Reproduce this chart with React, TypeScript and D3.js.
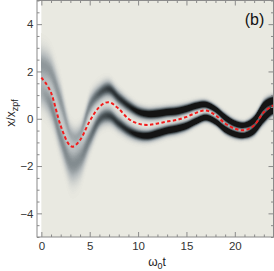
import React, { useEffect, useRef } from 'react';
import * as d3 from 'd3';

// sample times (omega_0 t) for all the traced curves
const tValues = [0, 1, 2, 3, 4, 5, 6, 7, 8, 9, 10, 11, 12, 13, 14, 15, 16, 17, 18, 19, 20, 21, 22, 23, 24];
// red dashed mean trajectory
const meanValues = [1.74, 1.1, -0.3, -1.15, -0.9, -0.1, 0.5, 0.7, 0.42, 0.0, -0.2, -0.26, -0.2, -0.12, -0.05, 0.08, 0.25, 0.35, 0.15, -0.2, -0.42, -0.48, -0.28, 0.28, 0.56];
// centres of the two dark branches of the distribution
const upperRidge = [2.3, 1.95, 0.75, -0.6, -0.6, 0.55, 1.07, 1.25, 0.88, 0.55, 0.3, 0.2, 0.22, 0.28, 0.32, 0.42, 0.55, 0.6, 0.4, 0.05, -0.2, -0.27, -0.05, 0.55, 0.78];
const lowerRidge = [1.1, 0.55, -0.8, -1.85, -1.7, -0.85, -0.05, 0.12, -0.2, -0.5, -0.68, -0.72, -0.62, -0.5, -0.42, -0.3, -0.1, 0.05, -0.12, -0.45, -0.65, -0.7, -0.5, 0.02, 0.36];
// spread and darkness of each branch
const upperWidth = [0.45, 0.45, 0.45, 0.28, 0.25, 0.28, 0.24, 0.22, 0.2, 0.18, 0.16, 0.15, 0.15, 0.14, 0.14, 0.13, 0.12, 0.11, 0.11, 0.12, 0.11, 0.1, 0.13, 0.15, 0.13];
const lowerWidth = [0.4, 0.4, 0.42, 0.5, 0.48, 0.32, 0.24, 0.22, 0.2, 0.18, 0.16, 0.15, 0.15, 0.14, 0.14, 0.13, 0.12, 0.11, 0.11, 0.12, 0.11, 0.1, 0.13, 0.15, 0.13];
const upperWeight = [0.45, 0.45, 0.45, 0.35, 0.35, 0.55, 0.72, 0.85, 0.88, 0.95, 1.1, 1.25, 1.35, 1.4, 1.4, 1.45, 1.5, 1.5, 1.5, 1.5, 1.5, 1.5, 1.5, 1.5, 1.5];
const lowerWeight = [0.35, 0.5, 0.5, 0.5, 0.5, 0.58, 0.72, 0.82, 0.88, 0.95, 1.1, 1.25, 1.35, 1.4, 1.4, 1.45, 1.5, 1.5, 1.5, 1.5, 1.5, 1.5, 1.5, 1.5, 1.5];

const xTicks = [0, 5, 10, 15, 20];
const yTicks = [-4, -2, 0, 2, 4];

const FONT = '"Liberation Sans", Arial, sans-serif';

// uniform catmull-rom through the integer-spaced samples
function catmull(vals: number[], t: number) {
  const n = vals.length;
  const i = Math.max(0, Math.min(n - 2, Math.floor(t)));
  const u = t - i;
  const p0 = vals[Math.max(i - 1, 0)], p1 = vals[i], p2 = vals[i + 1], p3 = vals[Math.min(i + 2, n - 1)];
  return 0.5 * (2 * p1 + (-p0 + p2) * u + (2 * p0 - 5 * p1 + 4 * p2 - p3) * u * u + (-p0 + 3 * p1 - 3 * p2 + p3) * u * u * u);
}

export default function App() {
  const ref = useRef<SVGSVGElement>(null);

  useEffect(() => {
    const svg = d3.select(ref.current);
    svg.selectAll('*').remove();

    const left = 37, right = 273.5, top = 0.5, bottom = 237;
    const x = d3.scaleLinear().domain([-0.45, 24]).range([left, right]);
    const y = d3.scaleLinear().domain([-5, 5]).range([bottom, top]);

    const color = d3.scaleLinear<string>()
      .domain([0, 0.3, 0.6, 0.85, 1])
      .range(['#e9e9e1', '#b3b9bb', '#6b757a', '#30373a', '#141414'])
      .interpolate(d3.interpolateRgb)
      .clamp(true);

    const lin = (vals: number[]) => d3.scaleLinear().domain(tValues).range(vals).clamp(true);
    const uw = lin(upperWidth), lw = lin(lowerWidth), ua = lin(upperWeight), la = lin(lowerWeight);

    svg.append('defs').append('clipPath').attr('id', 'plotclip')
      .append('rect').attr('x', left).attr('y', top).attr('width', right - left).attr('height', bottom - top);

    const plot = svg.append('g').attr('clip-path', 'url(#plotclip)');

    plot.append('rect')
      .attr('x', x(0)).attr('y', top)
      .attr('width', right - x(0)).attr('height', bottom - top)
      .attr('fill', color(0));

    // density cells, merged into vertical runs of the same shade
    const cells: { x: number; y: number; h: number; c: number }[] = [];
    const levels = 80;
    for (let px = Math.floor(x(0)); px < right; px++) {
      const t = Math.max(0, x.invert(px + 0.5));
      const u = catmull(upperRidge, t), l = catmull(lowerRidge, t);
      const su = uw(t), sl = lw(t), au = ua(t), al = la(t);
      let run: { x: number; y: number; h: number; c: number } | null = null;
      for (let py = Math.floor(top); py < bottom; py++) {
        const v = y.invert(py + 0.5);
        const I = au * Math.exp(-((v - u) ** 2) / (2 * su * su)) + al * Math.exp(-((v - l) ** 2) / (2 * sl * sl));
        const q = Math.round(Math.min(1, I) * levels);
        if (q < 1) { run = null; continue; }
        if (run && run.c === q) { run.h += 1; }
        else { run = { x: px, y: py, h: 1, c: q }; cells.push(run); }
      }
    }

    plot.append('g')
      .attr('shape-rendering', 'crispEdges')
      .selectAll('rect')
      .data(cells)
      .join('rect')
      .attr('x', d => d.x)
      .attr('y', d => d.y)
      .attr('width', 1)
      .attr('height', d => d.h)
      .attr('fill', d => color(d.c / levels));

    // mean trajectory
    const line = d3.line<number>()
      .x((d, i) => x(tValues[i]))
      .y(d => y(d))
      .curve(d3.curveCatmullRom.alpha(0));

    plot.append('path')
      .datum(meanValues)
      .attr('fill', 'none')
      .attr('stroke', '#f21d1d')
      .attr('stroke-width', 2)
      .attr('stroke-dasharray', '3.4 2.4')
      .attr('d', line);

    // frame + ticks
    const xMinor = d3.range(0, 25).filter(v => v % 5 !== 0);
    const yMinor = d3.range(-10, 11).map(v => v / 2).filter(v => v % 2 !== 0);
    const axisColor = '#8a8a8a';

    const styleAxis = (g: any) => {
      g.select('.domain').remove();
      g.selectAll('line').attr('stroke', axisColor);
      g.selectAll('text').attr('fill', '#333').style('font-family', FONT).style('font-size', '11.5px');
    };

    svg.append('g').attr('transform', `translate(0,${bottom})`)
      .call(d3.axisBottom(x).tickValues(xTicks).tickSize(-5).tickPadding(4.5)).call(styleAxis);
    svg.append('g').attr('transform', `translate(0,${bottom})`)
      .call(d3.axisBottom(x).tickValues(xMinor).tickSize(-2.5).tickFormat(() => '')).call(styleAxis);
    svg.append('g').attr('transform', `translate(0,${top})`)
      .call(d3.axisTop(x).tickValues(xTicks).tickSize(-5).tickFormat(() => '')).call(styleAxis);
    svg.append('g').attr('transform', `translate(0,${top})`)
      .call(d3.axisTop(x).tickValues(xMinor).tickSize(-2.5).tickFormat(() => '')).call(styleAxis);

    svg.append('g').attr('transform', `translate(${left},0)`)
      .call(d3.axisLeft(y).tickValues(yTicks).tickSize(-5).tickPadding(3.5)).call(styleAxis);
    svg.append('g').attr('transform', `translate(${left},0)`)
      .call(d3.axisLeft(y).tickValues(yMinor).tickSize(-2.5).tickFormat(() => '')).call(styleAxis);
    svg.append('g').attr('transform', `translate(${right},0)`)
      .call(d3.axisRight(y).tickValues(yTicks).tickSize(-5).tickFormat(() => '')).call(styleAxis);
    svg.append('g').attr('transform', `translate(${right},0)`)
      .call(d3.axisRight(y).tickValues(yMinor).tickSize(-2.5).tickFormat(() => '')).call(styleAxis);

    svg.append('rect')
      .attr('x', left).attr('y', top)
      .attr('width', right - left).attr('height', bottom - top)
      .attr('fill', 'none').attr('stroke', axisColor).attr('stroke-width', 1);

    // axis titles
    const yl = svg.append('text')
      .attr('transform', 'translate(15,113) rotate(-90)')
      .attr('text-anchor', 'middle')
      .style('font-family', FONT).style('font-size', '12px').attr('fill', '#222');
    yl.append('tspan').text('x/x');
    yl.append('tspan').attr('dy', 3).style('font-size', '9px').text('zpf');

    const xl = svg.append('text')
      .attr('x', 157).attr('y', 266)
      .attr('text-anchor', 'middle')
      .style('font-family', FONT).style('font-size', '12px').attr('fill', '#222');
    xl.append('tspan').text('ω');
    xl.append('tspan').attr('dy', 3).style('font-size', '9px').text('0');
    xl.append('tspan').attr('dy', -3).text('t');

    svg.append('text')
      .attr('x', 254.5).attr('y', 25)
      .attr('text-anchor', 'middle')
      .style('font-family', FONT).style('font-size', '16px').attr('fill', '#111')
      .text('(b)');
  }, []);

  return (
    <svg ref={ref} width={274} height={271} style={{ position: 'absolute', left: 0, top: 0, background: '#fff' }} />
  );
}
